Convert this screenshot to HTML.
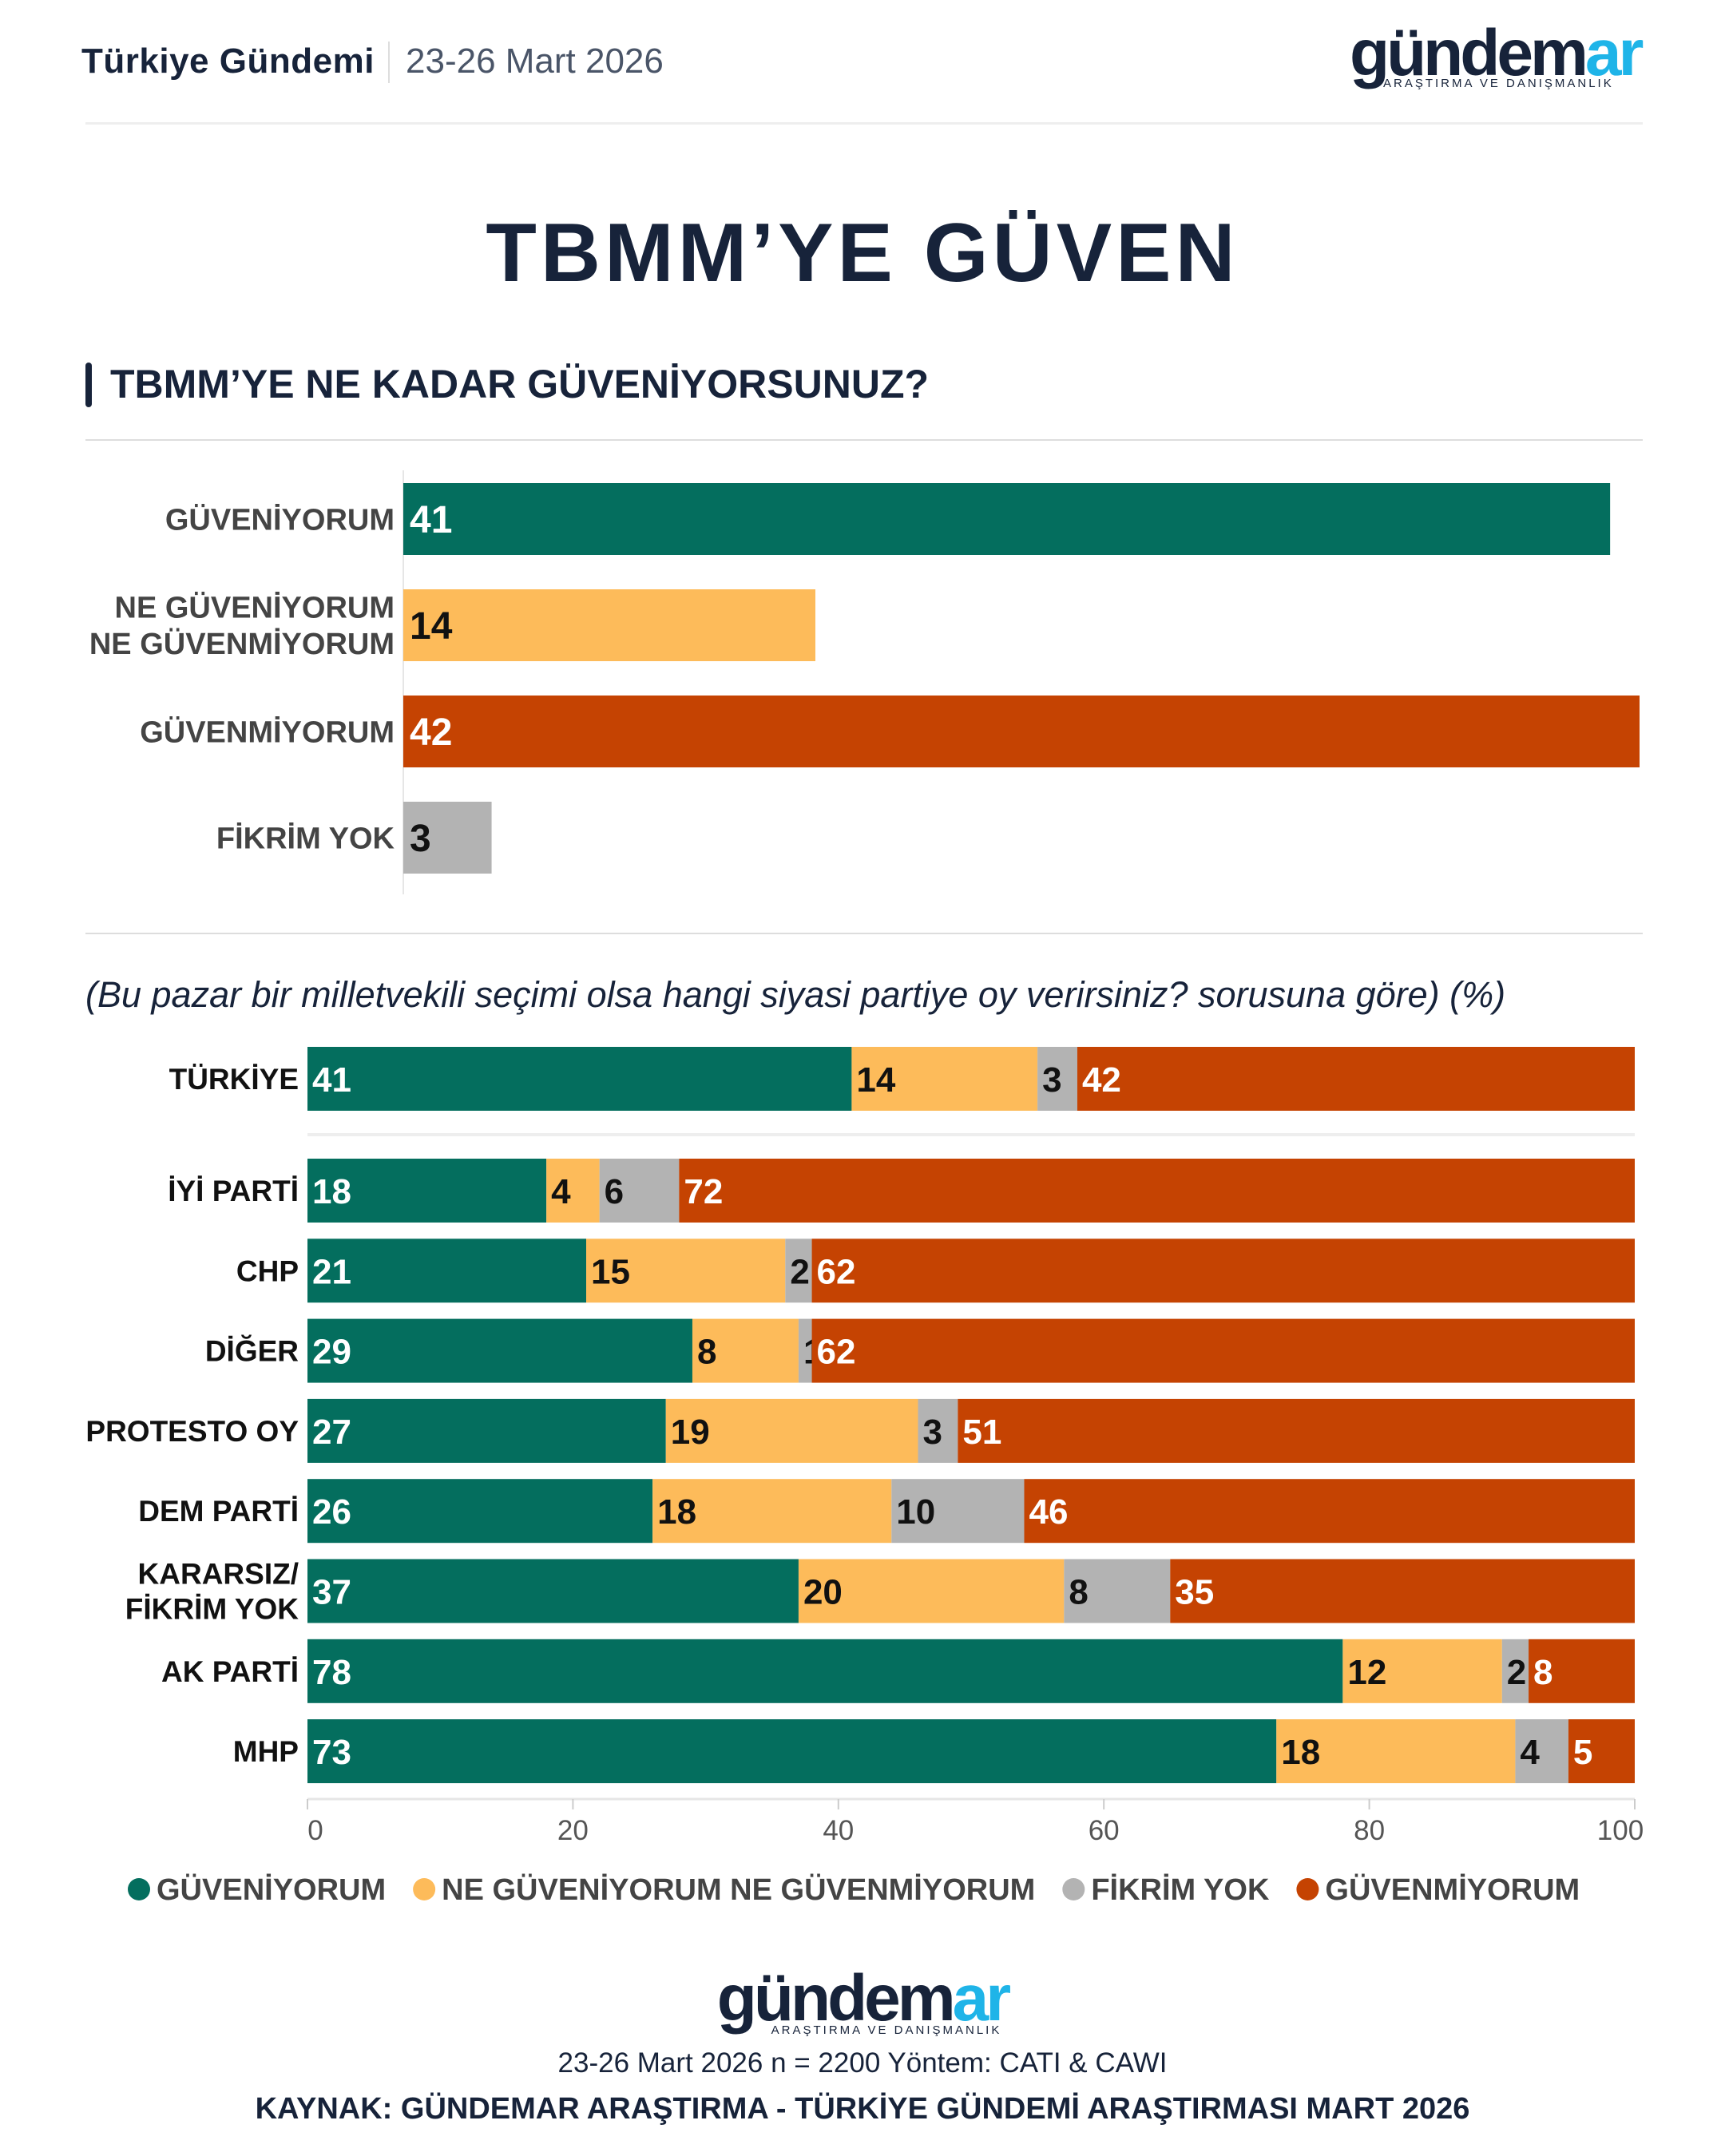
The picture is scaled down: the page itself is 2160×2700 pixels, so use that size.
<!DOCTYPE html>
<html><head><meta charset="utf-8">
<style>
body{margin:0;background:#fff;font-family:"Liberation Sans",sans-serif;}
#page{position:relative;width:2160px;height:2700px;overflow:hidden;background:#fff;color:#17233a}
.abs{position:absolute}
</style></head>
<body>
<div id="page">
  <div class="abs" style="left:102px;top:52px;font-size:44px;font-weight:bold;color:#17233a;letter-spacing:0.5px">Türkiye Gündemi</div>
  <div class="abs" style="left:486px;top:52px;width:2px;height:52px;background:#ddd"></div>
  <div class="abs" style="left:508px;top:52px;font-size:44px;color:#4a5568">23-26 Mart 2026</div>
  <div class="abs" style="left:1690px;top:22px;width:380px;">
    <div style="font-size:82px;font-weight:bold;letter-spacing:-4px;line-height:90px;color:#17233a">gündem<span style="color:#1fb4e8">ar</span></div>
    <div style="font-size:15px;letter-spacing:3px;margin-left:42px;margin-top:-16px;color:#17233a">ARAŞTIRMA VE DANIŞMANLIK</div>
  </div>
  <div class="abs" style="left:107px;top:153px;width:1950px;height:3px;background:#eee"></div>

  <div class="abs" style="left:0;width:2160px;top:258px;text-align:center;font-size:104px;font-weight:bold;letter-spacing:5px">TBMM’YE GÜVEN</div>

  <div class="abs" style="left:107px;top:454px;width:8px;height:56px;border-radius:4px;background:#17233a"></div>
  <div class="abs" style="left:138px;top:452px;font-size:50px;font-weight:bold">TBMM’YE NE KADAR GÜVENİYORSUNUZ?</div>
  <div class="abs" style="left:107px;top:550px;width:1950px;height:2px;background:#ddd"></div>

  <svg class="abs" style="left:0;top:0" width="2160" height="2700" id="chart"></svg>

  <div class="abs" style="left:107px;top:1168px;width:1950px;height:2px;background:#ddd"></div>
  <div class="abs" style="left:107px;top:1220px;font-size:45px;font-style:italic;color:#17233a">(Bu pazar bir milletvekili seçimi olsa hangi siyasi partiye oy verirsiniz? sorusuna göre) (%)</div>

  <div class="abs" style="left:0;width:2160px;top:2460px;text-align:center">
    <div style="font-size:82px;font-weight:bold;letter-spacing:-4px;line-height:86px;color:#17233a">gündem<span style="color:#1fb4e8">ar</span></div>
    <div style="font-size:15px;letter-spacing:3px;margin-left:60px;margin-top:-12px;color:#17233a">ARAŞTIRMA VE DANIŞMANLIK</div>
  </div>
  <div class="abs" style="left:0;width:2160px;top:2564px;text-align:center;font-size:35px">23-26 Mart 2026 n = 2200 Yöntem: CATI &amp; CAWI</div>
  <div class="abs" style="left:0;width:2160px;top:2620px;text-align:center;font-size:38px;font-weight:bold">KAYNAK: GÜNDEMAR ARAŞTIRMA - TÜRKİYE GÜNDEMİ ARAŞTIRMASI MART 2026</div>
</div>
<script>
const topCategories=["GÜVENİYORUM","NE GÜVENİYORUM|NE GÜVENMİYORUM","GÜVENMİYORUM","FİKRİM YOK"];
const topValues=[41,14,42,3];
const rowLabels=["TÜRKİYE","İYİ PARTİ","CHP","DİĞER","PROTESTO OY","DEM PARTİ","KARARSIZ/|FİKRİM YOK","AK PARTİ","MHP"];
const seriesGuven=[41,18,21,29,27,26,37,78,73];
const seriesNe=[14,4,15,8,19,18,20,12,18];
const seriesYok=[3,6,2,1,3,10,8,2,4];
const seriesGuvenme=[42,72,62,62,51,46,35,8,5];
const xTicks=[0,20,40,60,80,100];
const legendNames=["GÜVENİYORUM","NE GÜVENİYORUM NE GÜVENMİYORUM","FİKRİM YOK","GÜVENMİYORUM"];

const colors=["#046e5e","#fdbb5a","#b3b3b3","#c54302"];
const topColors=[colors[0],colors[1],colors[3],colors[2]];
const topTextColors=["#fff","#111","#fff","#111"];
const segText=["#fff","#111","#111","#fff"];
const svg=document.getElementById('chart');
const NS="http://www.w3.org/2000/svg";
function mk(tag,attrs,txt){const e=document.createElementNS(NS,tag);for(const k in attrs)e.setAttribute(k,attrs[k]);if(txt!=null)e.textContent=txt;svg.appendChild(e);return e;}
function label(lines,x,y,size,fill,name){
  const t=mk('text',{x:x,y:y,'text-anchor':'end','font-size':size,'font-weight':'bold',fill:fill,'font-family':'Liberation Sans, sans-serif'});
  
  
  const n=lines.length;
  lines.forEach((l,i)=>{const s=document.createElementNS(NS,'tspan');s.setAttribute('x',x);s.setAttribute('y',y+(i-(n-1)/2)*size*1.2+size*0.35);s.textContent=l;t.appendChild(s);});
}
// top chart
const tx0=505,tx1=2053,tMax=42;
const tX=v=>tx0+(v/tMax)*(tx1-tx0);
const tY=i=>605+i*133;
const ax=mk('line',{x1:tx0,x2:tx0,y1:589,y2:1120,stroke:'#e6e6e6','stroke-width':2});


topValues.forEach((v,i)=>{
  const r=mk('rect',{x:tx0,y:tY(i),width:tX(v)-tx0,height:90,fill:topColors[i]});
  
  
  label(topCategories[i].split('|'),494,tY(i)+45,38,'#444','top-category-label');
  const t=mk('text',{x:tx0+8,y:tY(i)+45+17,'font-size':48,'font-weight':'bold',fill:topTextColors[i]},v);
  
  
});
// bottom chart
const bx0=385,bx1=2047;
const bX=v=>bx0+(v/100)*(bx1-bx0);
const bY=i=>i===0?1311:1451+(i-1)*100.3;
const sep=mk('line',{x1:bx0,x2:bx1,y1:1421,y2:1421,stroke:'#eee','stroke-width':4});


const series=[seriesGuven,seriesNe,seriesYok,seriesGuvenme];
rowLabels.forEach((lab,i)=>{
  let acc=0;
  series.forEach((s,k)=>{
    const v=s[i];
    const r=mk('rect',{x:bX(acc),y:bY(i),width:bX(acc+v)-bX(acc),height:80,fill:colors[k]});
    
    
    const t=mk('text',{x:bX(acc)+6,y:bY(i)+40+16,'font-size':44,'font-weight':'bold',fill:segText[k]},v);
    
    
    acc+=v;
  });
  label(lab.split('|'),374,bY(i)+40,37,'#111','row-label');
});
const xa=mk('line',{x1:bx0,x2:bx1,y1:2253,y2:2253,stroke:'#e6e6e6','stroke-width':3});


xTicks.forEach((v,i)=>{
  const l=mk('line',{x1:bX(v),x2:bX(v),y1:2253,y2:2266,stroke:'#ccc','stroke-width':2});
  
  
  const t=mk('text',{x:bX(v)+(i===0?10:(i===xTicks.length-1?-18:0)),y:2304,'text-anchor':'middle','font-size':35,fill:'#555'},v);
  
  
});
// legend
let lx=160;
legendNames.forEach((n,k)=>{
  const c=mk('circle',{cx:lx+14,cy:2366,r:14,fill:colors[k]});
  
  
  const t=mk('text',{x:lx+36,y:2379,'font-size':38,'font-weight':'bold',fill:'#444'},n);
  
  
  lx+=36+t.getComputedTextLength()+34;
});
</script>
</body></html>
